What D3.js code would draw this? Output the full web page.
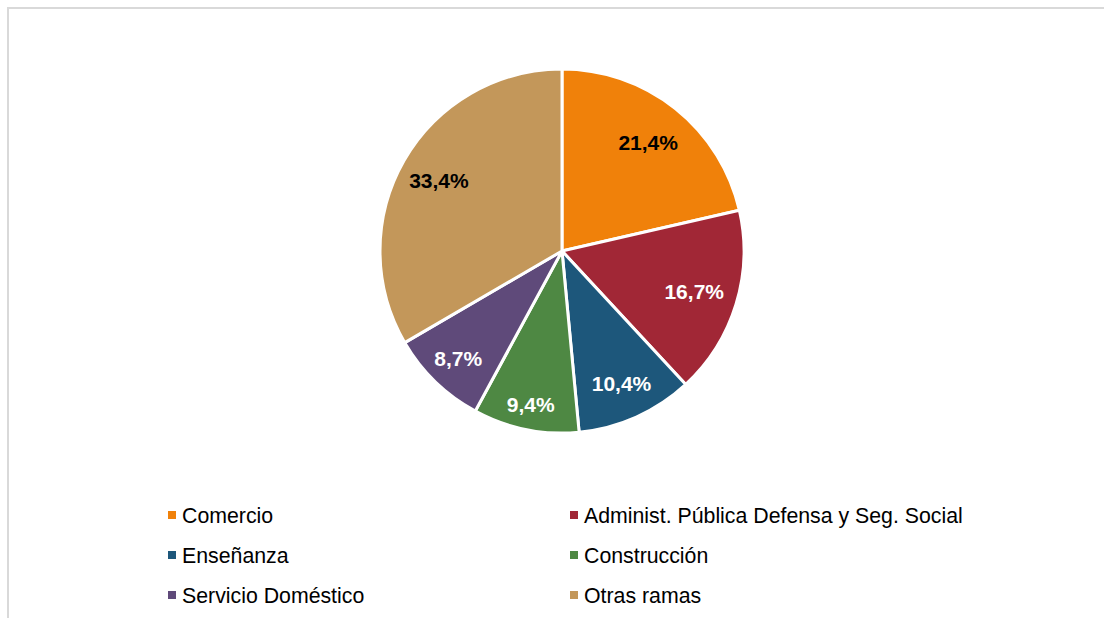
<!DOCTYPE html>
<html>
<head>
<meta charset="utf-8">
<script src="https://cdn.jsdelivr.net/npm/d3@7"></script>
<style>
  body { margin: 0; background: #fff; }
  svg { display: block; font-family: "Liberation Sans", Arial, Helvetica, sans-serif; }
</style>
</head>
<body>
<div id="chart"></div>
<script>
// Sectors and their share of employment (percent), clockwise from 12 o'clock.
var categories = ["Comercio", "Administ. Pública Defensa y Seg. Social", "Enseñanza",
                  "Construcción", "Servicio Doméstico", "Otras ramas"];
var shares = [21.4, 16.7, 10.4, 9.4, 8.7, 33.4];
var colors = ["#f0810a", "#a12736", "#1d577b", "#4e8843", "#5f4a7a", "#c3975a"];
var labelColors = ["#000", "#fff", "#fff", "#fff", "#fff", "#000"];
// "best fit" label distance from the centre, as a fraction of the radius
var labelFit = [0.76, 0.76, 0.80, 0.86, 0.82, 0.78];

var width = 1104;
var height = 618;
var cx = 562, cy = 251, radius = 182;

var svg = d3.select("#chart").append("svg")
  .attr("width", width)
  .attr("height", height);

// Light frame, cut off on the right and bottom like the source.
svg.append("rect")
  .attr("x", 8).attr("y", 8)
  .attr("width", width).attr("height", height)
  .attr("fill", "none")
  .attr("stroke", "#d9d9d9")
  .attr("stroke-width", 2);

var data = categories.map(function(c, i) {
  return { name: c, value: shares[i], color: colors[i], label: labelColors[i], fit: labelFit[i] };
});

var pie = d3.pie().sort(null).value(function(d) { return d.value; });
var arc = d3.arc().innerRadius(0).outerRadius(radius);

var g = svg.append("g").attr("transform", "translate(" + cx + "," + cy + ")");

g.selectAll("path")
  .data(pie(data))
  .enter().append("path")
  .attr("d", arc)
  .attr("fill", function(d) { return d.data.color; })
  .attr("stroke", "#fff")
  .attr("stroke-width", 3)
  .attr("stroke-linejoin", "round");

g.selectAll("text")
  .data(pie(data))
  .enter().append("text")
  .attr("transform", function(d) {
    var r = radius * d.data.fit;
    return "translate(" + d3.arc().innerRadius(r).outerRadius(r).centroid(d) + ")";
  })
  .attr("text-anchor", "middle")
  .attr("dy", "0.36em")
  .attr("font-size", 21)
  .attr("font-weight", "bold")
  .attr("fill", function(d) { return d.data.label; })
  .text(function(d) { return d3.format(".1f")(d.data.value).replace(".", ",") + "%"; });

// Legend: two columns, three rows.
var legend = svg.append("g");
var item = legend.selectAll("g")
  .data(data)
  .enter().append("g")
  .attr("transform", function(d, i) {
    var col = i % 2, row = Math.floor(i / 2);
    return "translate(" + (col === 0 ? 168 : 570) + "," + (515 + row * 40) + ")";
  });

item.append("rect")
  .attr("x", 0).attr("y", -4)
  .attr("width", 8).attr("height", 8)
  .attr("fill", function(d) { return d.color; });

item.append("text")
  .attr("x", 14)
  .attr("dy", "0.36em")
  .attr("font-size", 21.3)
  .attr("fill", "#000")
  .text(function(d) { return d.name; });
</script>
</body>
</html>
